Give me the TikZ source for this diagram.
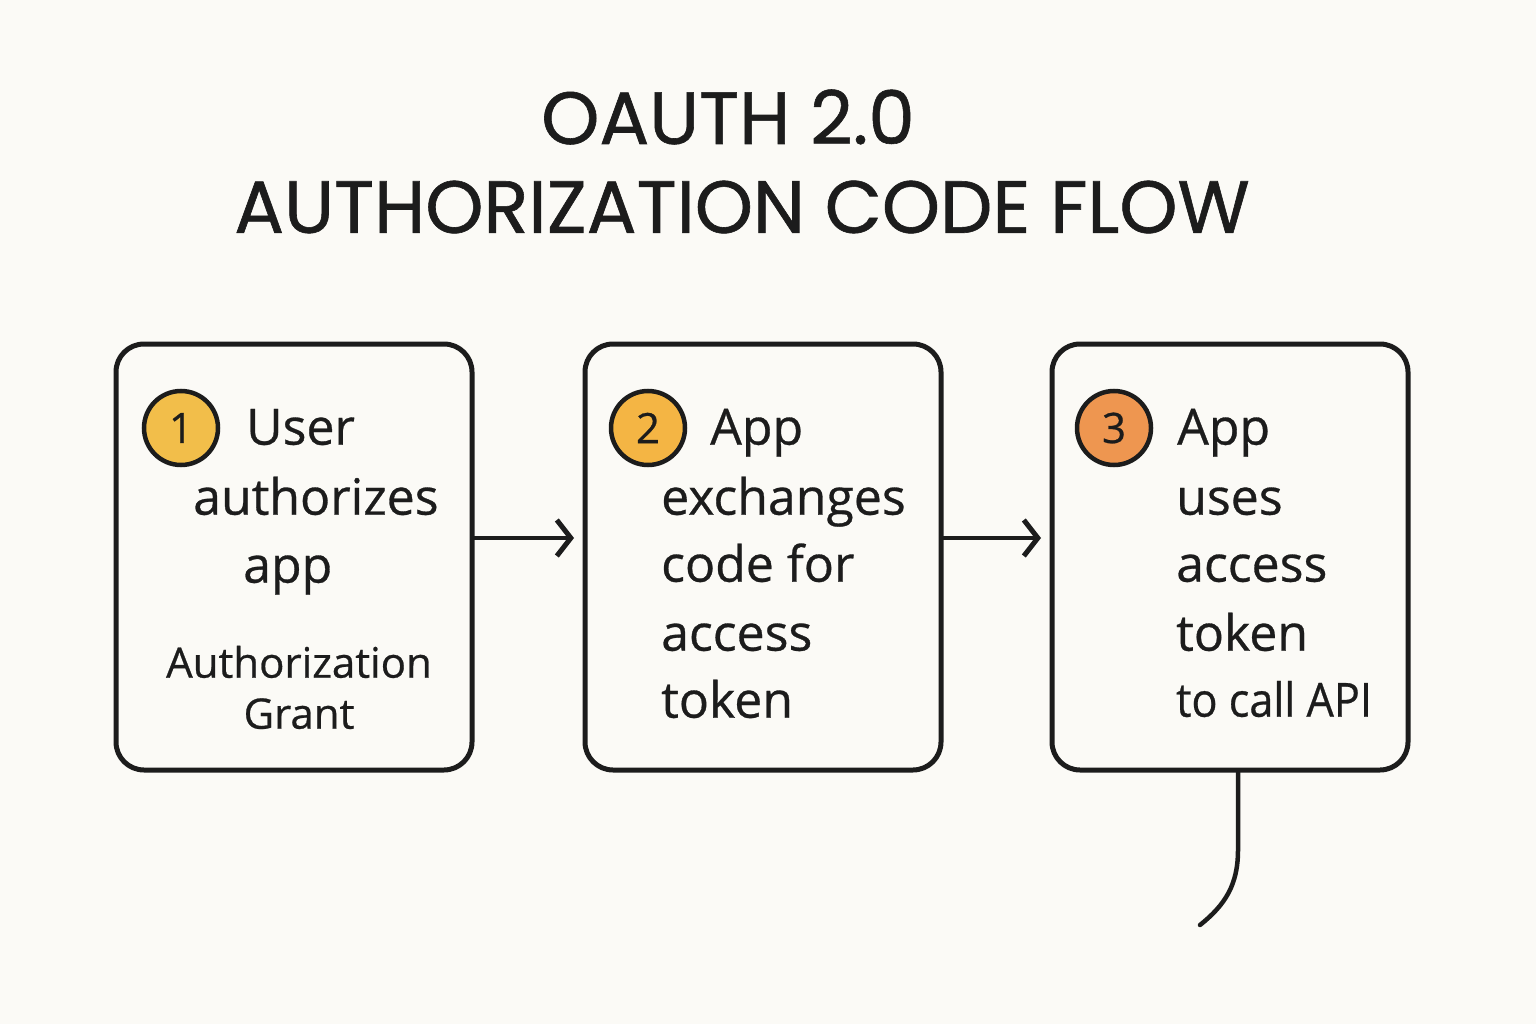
\documentclass[tikz,border=0pt]{standalone}
\usepackage{fontspec}
\setmainfont{Open Sans}[FakeBold=0.6]
\newfontfamily\titlefont{Poppins}[FakeBold=0.8]
\usetikzlibrary{arrows.meta}
\definecolor{bg}{HTML}{FBFAF6}
\definecolor{ink}{HTML}{1C1C1C}
\definecolor{cA}{HTML}{F2BE4A}
\definecolor{cB}{HTML}{F4B544}
\definecolor{cC}{HTML}{EE9650}
\tikzset{
  stepbox/.style={draw=ink,line width=5pt,rounded corners=28pt,minimum width=356pt,minimum height=426pt,inner sep=0},
  numc/.style={circle,draw=ink,line width=4.5pt,minimum size=74pt,inner sep=0,font=\fontsize{42}{42}\selectfont,text=ink},
  txt/.style={anchor=mid west,inner sep=0,font=\fontsize{50}{50}\selectfont,text=ink},
  sm/.style={anchor=mid,inner sep=0,font=\fontsize{42}{42}\selectfont,text=ink},
  ttl/.style={font=\titlefont\fontsize{74}{74}\selectfont,text=ink,inner sep=0},
  conn/.style={draw=ink,line width=4.5pt,line cap=round,-{Straight Barb[length=14pt,width=36pt,line width=5pt]}}
}
\begin{document}
\begin{tikzpicture}[x=1pt,y=-1pt]
\fill[bg] (0,0) rectangle (1536,1024);
\useasboundingbox (0,0) rectangle (1536,1024);
\node[ttl] (t1) at (728,117) {OAUTH 2.0};
\node[ttl] (t2) at (742,207) {AUTHORIZATION CODE FLOW};
\node[stepbox] (b1) at (294,557) {};
\node[stepbox] (b2) at (763,557) {};
\node[stepbox] (b3) at (1230,557) {};
\node[numc,fill=cA] (n1) at (181,428) {1};
\node[numc,fill=cB] (n2) at (648,428) {2};
\node[numc,fill=cC] (n3) at (1114,428) {3};
\node[txt] (u1) at (246,442) {User};
\node[txt] (u2) at (193,512) {authorizes};
\node[txt] (u3) at (243,580) {app};
\node[sm] (u4) at (299,675) {Authorization};
\node[sm] (u5) at (299,726) {Grant};
\node[txt] (a1) at (710,442) {App};
\node[txt] (a2) at (661,512) {exchanges};
\node[txt] (a3) at (661,579) {code for};
\node[txt] (a4) at (661,648) {access};
\node[txt] (a5) at (661,715) {token};
\node[txt] (c1) at (1177,442) {App};
\node[txt] (c2) at (1176,512) {uses};
\node[txt] (c3) at (1176,579) {access};
\node[txt] (c4) at (1176,648) {token};
\node[txt,font=\fontsize{47}{47}\selectfont,xscale=0.92] (c5) at (1176,714) {to call API};
\coordinate (e1) at (574,538);
\coordinate (e2) at (1041,538);
\draw[conn] (b1.east |- e1) -- (e1);
\draw[conn] (b2.east |- e2) -- (e2);
\coordinate (tail) at (1200,925);
\draw[ink,line width=4.5pt,line cap=round] (1238,771) -- (1238,850) .. controls (1238,885) and (1225,905) .. (tail);
\end{tikzpicture}
\end{document}
